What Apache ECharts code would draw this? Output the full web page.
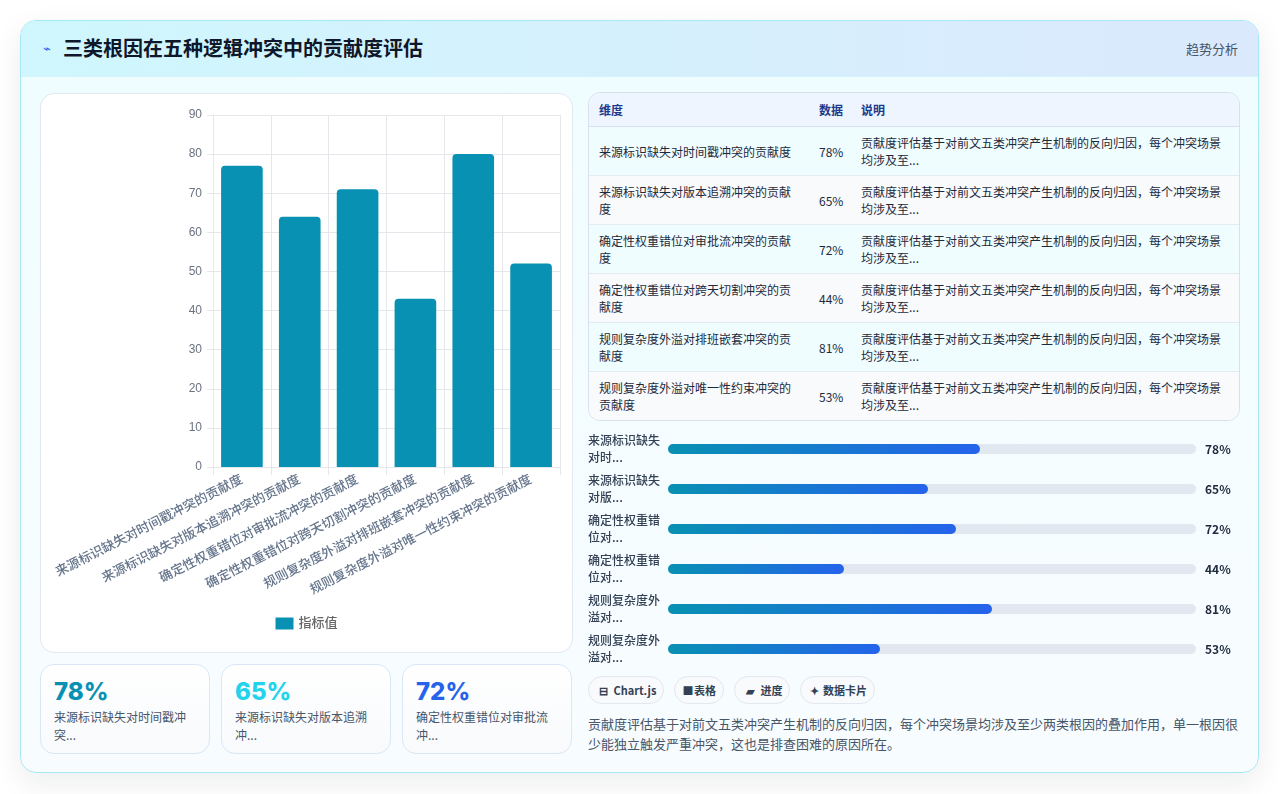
<!DOCTYPE html>
<html>
<head>
<meta charset="utf-8">
<script src="https://cdn.jsdelivr.net/npm/echarts@6/dist/echarts.min.js"></script>
<style>
  body { margin: 0; width: 1280px; height: 794px; background: #fff; font-family: "Noto Sans CJK SC", sans-serif; position: relative; overflow: hidden; }
  .card { position: absolute; left: 20px; top: 20px; width: 1237px; height: 751px; border: 1px solid #a5e9f5; border-radius: 16px;
          background: linear-gradient(180deg, #effdff 0%, #f8fcff 100%); box-shadow: 0 10px 30px rgba(15, 23, 42, 0.08); overflow: hidden; }
  .head { position: absolute; left: 0; top: 0; width: 100%; height: 55px; background: linear-gradient(90deg, #cff7fd 0%, #dbe9fd 100%); border-bottom: 1px solid #d5f3fa; }
  .head .icon { position: absolute; left: 22px; top: 17px; font-size: 13px; color: #2563eb; }
  .head .title { position: absolute; left: 42px; top: 13px; font-size: 20px; font-weight: bold; color: #0f172a; line-height: 28px; }
  .head .sub { position: absolute; right: 20px; top: 18px; font-size: 13px; color: #475569; line-height: 20px; }
  .abs { position: absolute; }
  #bar { left: 40px; top: 93px; width: 531px; height: 558px; background: #fff; border: 1px solid #e1e8f0; border-radius: 14px; }
  .tbl { left: 588px; top: 92px; width: 650px; border: 1px solid #d6e1ec; border-radius: 12px; overflow: hidden; background: #f8fbfd; }
  table { border-collapse: collapse; table-layout: fixed; width: 650px; font-size: 12px; color: #1e293b; }
  th { text-align: left; font-weight: 600; color: #1e3a8a; padding: 9px 10px; line-height: 15px; background: #eef5fe; border-bottom: 1px solid #d6e1ec; white-space: nowrap; }
  td { padding: 7px 10px; line-height: 17px; vertical-align: middle; border-top: 1px solid #e4eaf1; }
  th.n, td.n { padding-right: 2px; white-space: nowrap; }
  tr.odd td { background: #f0fdff; }
  tr.even td { background: #f8fafc; }
  tbody tr:first-child td { border-top: none; }
  .kpi { top: 664px; width: 142px; height: 64px; padding: 13px 13px 11px 13px; border: 1px solid #d9e7f7; border-radius: 14px;
         background: linear-gradient(180deg, #ffffff 0%, #f8fafc 100%); }
  .kpi .num { font-family: "Inter", "Noto Sans", sans-serif; font-size: 24px; font-weight: 800; line-height: 28px; }
  .kpi .lab { margin-top: 2px; font-size: 12px; line-height: 18px; color: #475569; }
  #prog { left: 580px; top: 429px; width: 670px; height: 240px; }
  .tags { left: 588px; top: 676px; display: flex; gap: 10px; }
  .tag { height: 26px; line-height: 26px; padding: 0 7px; border: 1px solid #e2e8f0; border-radius: 14px; background: #f8fafc; font-size: 11px; font-weight: bold; color: #334155; }
  .tag i { font-style: normal; display: inline-block; text-align: center; }
  .note { left: 588px; top: 714px; width: 652px; font-size: 13px; line-height: 20px; color: #475569; }
</style>
</head>
<body>
<div class="card">
  <div class="head">
    <span class="icon">⌁</span>
    <span class="title">三类根因在五种逻辑冲突中的贡献度评估</span>
    <span class="sub">趋势分析</span>
  </div>
</div>
<div id="bar" class="abs"></div>
<div class="abs tbl"><table id="table"></table></div>
<div id="kpis"></div>
<div id="prog" class="abs"></div>
<div class="abs tags">
  <span class="tag"><i style="width:15px">⊟</i> Chart.js</span>
  <span class="tag"><i style="width:9px">■</i> 表格</span>
  <span class="tag"><i style="width:16px">▰</i> 进度</span>
  <span class="tag"><i style="width:12px">✦</i> 数据卡片</span>
</div>
<div class="abs note" id="note"></div>

<script>
var categories = ['来源标识缺失对时间戳冲突的贡献度', '来源标识缺失对版本追溯冲突的贡献度', '确定性权重错位对审批流冲突的贡献度',
  '确定性权重错位对跨天切割冲突的贡献度', '规则复杂度外溢对排班嵌套冲突的贡献度', '规则复杂度外溢对唯一性约束冲突的贡献度'];
var chartValues = [77, 64, 71, 43, 80, 52];
var tableValues = [78, 65, 72, 44, 81, 53];
var kpiColors = ['#0891b2', '#22d3ee', '#2563eb'];
var noteText = '贡献度评估基于对前文五类冲突产生机制的反向归因，每个冲突场景均涉及至少两类根因的叠加作用，单一根因很少能独立触发严重冲突，这也是排查困难的原因所在。';

// table
var html = '<colgroup><col style="width:220px"><col style="width:42px"><col style="width:388px"></colgroup>';
html += '<thead><tr><th>维度</th><th class="n">数据</th><th>说明</th></tr></thead><tbody>';
for (var i = 0; i < categories.length; i++) {
  html += '<tr class="' + (i % 2 == 0 ? 'odd' : 'even') + '"><td>' + categories[i] + '</td><td class="n">' + tableValues[i] + '%</td><td>'
    + noteText.slice(0, 34) + '...</td></tr>';
}
html += '</tbody>';
document.getElementById('table').innerHTML = html;

// kpi cards
var kpi = '';
for (var k = 0; k < 3; k++) {
  kpi += '<div class="abs kpi" style="left:' + (40 + k * 181) + 'px"><div class="num" style="color:' + kpiColors[k] + '">'
    + tableValues[k] + '%</div><div class="lab">' + categories[k].slice(0, 12) + '...</div></div>';
}
document.getElementById('kpis').innerHTML = kpi;
document.getElementById('note').textContent = noteText;

// main bar chart
var gridColor = '#e5e7eb';
var chart = echarts.init(document.getElementById('bar'));
chart.setOption({
  animation: false,
  textStyle: { fontFamily: '"Liberation Sans", "Noto Sans CJK SC", sans-serif' },
  grid: { left: 172, right: 12, top: 21, bottom: 185 },
  legend: {
    data: ['指标值'], top: 518, left: 'center', icon: 'rect', itemWidth: 18, itemHeight: 12, itemGap: 6,
    textStyle: { color: '#666', fontSize: 13, fontWeight: 500 }
  },
  xAxis: {
    type: 'category', data: categories,
    axisLine: { lineStyle: { color: gridColor } },
    axisTick: { show: true, length: 8, lineStyle: { color: gridColor } },
    splitLine: { show: true, lineStyle: { color: gridColor } },
    axisLabel: { interval: 0, rotate: 27, margin: 12, color: '#64748b', fontSize: 13, fontWeight: 500 }
  },
  yAxis: {
    type: 'value', min: 0, max: 90, interval: 10,
    axisLine: { show: true, lineStyle: { color: gridColor } },
    axisTick: { show: true, length: 6, lineStyle: { color: gridColor } },
    splitLine: { lineStyle: { color: gridColor } },
    axisLabel: { color: '#6b7280', fontSize: 12, margin: 11 }
  },
  series: [{
    name: '指标值', type: 'bar', data: chartValues, barWidth: '72%',
    itemStyle: { color: '#0891b2', borderRadius: [4, 4, 0, 0] }
  }]
});

// progress bars
var shortLabels = categories.map(function (c) { return c.slice(0, 6) + '\n' + c.slice(6, 8) + '...'; });
var valueLabels = tableValues.map(function (v) { return v + '%'; });
var prog = echarts.init(document.getElementById('prog'));
prog.setOption({
  animation: false,
  textStyle: { fontFamily: '"Noto Sans CJK SC", sans-serif' },
  grid: { left: 88, right: 54, top: 0, bottom: 0 },
  xAxis: { type: 'value', min: 0, max: 132, show: false },
  yAxis: [{
    type: 'category', inverse: true, data: shortLabels,
    axisLine: { show: false }, axisTick: { show: false },
    axisLabel: { align: 'left', margin: 80, color: '#334155', fontSize: 12, lineHeight: 17, fontWeight: 500 }
  }, {
    type: 'category', inverse: true, position: 'right', data: valueLabels,
    axisLine: { show: false }, axisTick: { show: false },
    axisLabel: { align: 'left', margin: 9, color: '#1e293b', fontSize: 12, fontWeight: 'bold' }
  }],
  series: [{
    type: 'bar', data: tableValues, barWidth: 10,
    showBackground: true, backgroundStyle: { color: '#e2e8f0', borderRadius: 5 },
    itemStyle: {
      borderRadius: 5,
      color: new echarts.graphic.LinearGradient(0, 0, 1, 0, [{ offset: 0, color: '#0891b2' }, { offset: 1, color: '#2563eb' }])
    }
  }]
});
</script>
</body>
</html>
